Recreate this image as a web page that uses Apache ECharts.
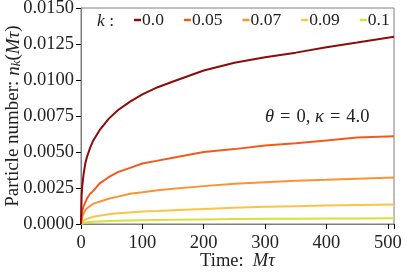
<!DOCTYPE html>
<html>
<head>
<meta charset="utf-8">
<script src="https://cdn.jsdelivr.net/npm/echarts@6/dist/echarts.min.js"></script>
<style>html,body{margin:0;padding:0;background:#fff}#c{width:407px;height:280px}</style>
</head>
<body>
<div id="c"></div>
<script>
var times = [0,1,2,4,7,10,15,20,30,45,60,80,100,125,150,200,250,300,350,400,450,510];
var kLabels = ['0.0','0.05','0.07','0.09','0.1'];
var n_k0   = [0,0.0020,0.0026,0.0034,0.0042,0.0047,0.0053,0.0058,0.0065,0.0073,0.0079,0.0085,0.0090,0.0095,0.0099,0.01066,0.0112,0.01158,0.0119,0.01228,0.0126,0.0130];
var n_k005 = [0,0.0006,0.0009,0.0012,0.0015,0.0018,0.0021,0.0023,0.0028,0.00325,0.0036,0.0039,0.0042,0.0044,0.0046,0.0050,0.0052,0.00545,0.0056,0.0058,0.0060,0.0061];
var n_k007 = [0,0.0003,0.0005,0.0007,0.00095,0.0011,0.00125,0.0014,0.00155,0.00175,0.0019,0.0021,0.0022,0.00235,0.00245,0.00263,0.0028,0.0029,0.0030,0.00307,0.00315,0.00323];
var n_k009 = [0,0.0001,0.00015,0.00022,0.0003,0.00036,0.00044,0.0005,0.00058,0.00067,0.00074,0.0008,0.00086,0.0009,0.00096,0.00105,0.00112,0.00119,0.00124,0.00128,0.00132,0.00136];
var n_k01  = [0,0.00003,0.00005,0.00007,0.0001,0.00012,0.00014,0.00016,0.00018,0.0002,0.00022,0.00024,0.00026,0.00028,0.0003,0.00032,0.00034,0.00036,0.00037,0.00038,0.00039,0.0004];
var yTicks = [0,0.0025,0.005,0.0075,0.01,0.0125,0.015];
var xTicks = [0,100,200,300,400,500];

var allSeries = [n_k0,n_k005,n_k007,n_k009,n_k01];
var colors = ['#8c0c0c','#f25a1a','#fb9234','#fdc444','#d8e03a'];
var FONT = 'Liberation Serif';
var FS = 18.5;

function pairs(arr){ return times.map(function(t,i){ return [t, arr[i]]; }); }

var chart = echarts.init(document.getElementById('c'), null, {renderer:'canvas'});
chart.setOption({
  animation:false,
  textStyle:{fontFamily:FONT},
  grid:{left:81,right:13,top:8,bottom:56,outerBoundsMode:'none',containLabel:false,show:true,borderColor:'#7f7f7f',borderWidth:1,backgroundColor:'transparent'},
  legend:{
    left:134, top:11, padding:0,
    icon:'rect', itemWidth:7, itemHeight:2.5, itemGap:20,
    textStyle:{fontFamily:FONT,fontSize:17.5,color:'#222',padding:[0,0,0,-4]},
    data:kLabels
  },
  xAxis:{
    type:'value', min:0, max:510, interval:100,
    axisLine:{show:true,lineStyle:{color:'#7f7f7f',width:1}},
    axisTick:{show:true,length:5,lineStyle:{color:'#000',width:1}},
    axisLabel:{fontFamily:FONT,fontSize:FS,color:'#222',margin:10,
      customValues:xTicks, formatter:function(v){return String(v);}},
    splitLine:{show:false},
    name:'{a|Time:  }{i|Mτ}', nameLocation:'middle', nameGap:28, nameMoveOverlap:false,
    nameTextStyle:{rich:{a:{fontFamily:FONT,fontSize:FS,color:'#222'},i:{fontFamily:FONT,fontSize:FS,fontStyle:'italic',color:'#222'}}}
  },
  yAxis:{
    type:'value', min:0, max:0.015, interval:0.0025,
    axisLine:{show:true,lineStyle:{color:'#7f7f7f',width:1}},
    axisTick:{show:true,length:5,lineStyle:{color:'#000',width:1}},
    axisLabel:{fontFamily:FONT,fontSize:FS,color:'#222',margin:7,
      formatter:function(v){return v.toFixed(4);}},
    splitLine:{show:false},
    name:'{a|Particle number: }{i|n}{s|k}{a|(}{i|Mτ}{a|)}', nameLocation:'middle', nameGap:58, nameMoveOverlap:false,
    nameTextStyle:{rich:{
      a:{fontFamily:FONT,fontSize:19,color:'#222'},
      i:{fontFamily:FONT,fontSize:19,fontStyle:'italic',color:'#222'},
      s:{fontFamily:FONT,fontSize:13,fontStyle:'italic',color:'#222',verticalAlign:'bottom',padding:[6,0,0,0]}
    }}
  },
  graphic:[
    {type:'text', left:97, top:12, style:{text:'{i|k} :', rich:{i:{fontFamily:FONT,fontSize:17.5,fontStyle:'italic',fill:'#222'}}, fontFamily:FONT, fontSize:17.5, fill:'#222'}},
    {type:'text', left:265, top:108, style:{text:'{i|θ}{e|=}0, {i|κ}{e|=}4.0', rich:{
      i:{fontFamily:FONT,fontSize:FS,fontStyle:'italic',fill:'#222'},
      e:{fontFamily:FONT,fontSize:FS,fill:'#222',padding:[0,6,0,6]}
    }, fontFamily:FONT, fontSize:FS, fill:'#222'}}
  ],
  series: allSeries.map(function(arr,i){
    return {type:'line', name:kLabels[i], data:pairs(arr), showSymbol:false, smooth:false,
      lineStyle:{width:2,color:colors[i]}, itemStyle:{color:colors[i]}, z:10-i};
  })
});
</script>
</body>
</html>
